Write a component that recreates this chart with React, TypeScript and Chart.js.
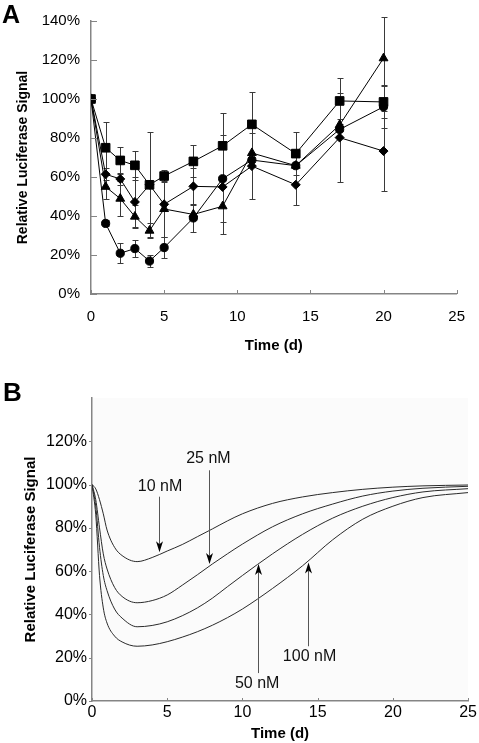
import React, { useEffect, useRef } from 'react';
import { Chart, registerables } from 'chart.js';
Chart.register(...registerables);

const FONT = '"Liberation Sans", Arial, sans-serif';

// ---------- Panel A data ----------
const daysA = [0, 1, 2, 3, 4, 5, 7, 9, 11, 14, 17, 20];
const squareVals = [100, 75, 68.5, 66, 56, 60.5, 68, 76, 87, 72, 99, 98.5];
const squareErr = [0, 13, 7, 7.5, 27, 3.3, 8.2, 16.7, 16.5, 11, 12, 8];
const diamondVals = [100, 61.4, 59, 47.2, 56, 46, 55.2, 54.9, 65.6, 56, 80.2, 73.3];
const diamondErr = [0, 3, 3, 12.8, 0, 0, 9.4, 0, 17, 10.5, 23, 20.6];
const triangleVals = [100, 55, 48.9, 39.7, 32.5, 43.6, 40.8, 45, 72.3, 65.8, 86.7, 120.9];
const triangleErr = [0, 6.5, 9, 6, 4, 14.6, 0, 14, 0, 0, 3, 21];
const circleVals = [100, 36.2, 20.9, 23.3, 16.9, 23.8, 39, 59.1, 68.7, 65.8, 84.4, 96];
const circleErr = [0, 1.5, 5.1, 4.4, 3, 5.5, 7, 22.4, 0, 0, 0, 11];

// ---------- Panel B data ----------
const daysB = [0, 0.25, 0.5, 0.75, 1, 1.5, 2, 3, 4, 5, 6, 7, 8, 9, 10, 12, 14, 16, 18, 20, 22, 25];
const curve10 = [100, 98, 93, 86.5, 79, 71, 67.2, 64.4, 66.3, 69.3, 72.3, 75.9, 79.5, 83.2, 86.5, 91.3, 94.3, 96.3, 97.8, 98.8, 99.4, 99.8];
const curve25 = [100, 93, 80, 68, 61, 52.5, 48.3, 45.4, 46.4, 49, 53.5, 58.3, 63.3, 68, 72.5, 80.5, 86.5, 91, 94.7, 97, 98.3, 99.2];
const curve50 = [100, 90, 71, 58, 51, 42.5, 38.3, 34.3, 34.9, 36.6, 39.4, 43, 47.5, 52.8, 58, 68, 77, 84.5, 90, 94, 96.6, 98.1];
const curve100 = [100, 86, 58, 43, 36, 30, 27.3, 25.3, 25.9, 27.4, 29.5, 32, 35, 38.5, 42.5, 52, 62.5, 74.5, 84, 90, 94, 96.3];

const arrowLabels = ['10 nM', '25 nM', '50 nM', '100 nM'];
const arrowDay = [4.48, 7.79, 11.03, 14.39];
const arrowTail = [94.4, 106.6, 12.9, 25.3];
const arrowTip = [68.7, 63.3, 63.3, 64];
const labelDay = [4.52, 7.74, 10.98, 14.46];
const labelVal = [99.2, 111.8, 8.2, 20.6];

const AXIS_COLOR = '#858585';

function tickMarks(opts: { xLen: number; yLen: number }) {
  return {
    id: 'tickMarks',
    afterDraw(chart: any) {
      const ctx = chart.ctx;
      const xs = chart.scales.x;
      const ys = chart.scales.y;
      const area = chart.chartArea;
      ctx.save();
      ctx.strokeStyle = AXIS_COLOR;
      ctx.lineWidth = 1;
      xs.ticks.forEach((t: any) => {
        const px = Math.round(xs.getPixelForValue(t.value)) + 0.5;
        ctx.beginPath();
        ctx.moveTo(px, area.bottom);
        ctx.lineTo(px, area.bottom - opts.xLen);
        ctx.stroke();
      });
      if (opts.yLen > 0) {
        ys.ticks.forEach((t: any) => {
          const py = Math.round(ys.getPixelForValue(t.value)) + 0.5;
          ctx.beginPath();
          ctx.moveTo(area.left, py);
          ctx.lineTo(area.left + opts.yLen, py);
          ctx.stroke();
        });
      }
      ctx.restore();
    },
  };
}

function panelLetter(letter: string, x: number, y: number, size: number) {
  return {
    id: 'panelLetter',
    afterDraw(chart: any) {
      const ctx = chart.ctx;
      ctx.save();
      ctx.fillStyle = '#000';
      ctx.font = `bold ${size}px ${FONT}`;
      ctx.textBaseline = 'alphabetic';
      ctx.textAlign = 'left';
      ctx.fillText(letter, x, y);
      ctx.restore();
    },
  };
}

const errorBars = {
  id: 'errorBars',
  beforeDatasetsDraw(chart: any) {
    const ctx = chart.ctx;
    const xs = chart.scales.x;
    const ys = chart.scales.y;
    ctx.save();
    ctx.strokeStyle = '#3a3a3a';
    ctx.lineWidth = 1;
    chart.data.datasets.forEach((ds: any) => {
      const err: number[] = ds.err;
      ds.data.forEach((p: any, i: number) => {
        const e = err[i];
        if (!e) return;
        const px = Math.round(xs.getPixelForValue(p.x)) + 0.5;
        const t = Math.round(ys.getPixelForValue(p.y + e)) + 0.5;
        const b = Math.round(ys.getPixelForValue(p.y - e)) + 0.5;
        ctx.beginPath();
        ctx.moveTo(px, t);
        ctx.lineTo(px, b);
        ctx.moveTo(px - 3, t);
        ctx.lineTo(px + 3, t);
        ctx.moveTo(px - 3, b);
        ctx.lineTo(px + 3, b);
        ctx.stroke();
      });
    });
    ctx.restore();
  },
};

const plotBg = {
  id: 'plotBg',
  beforeDraw(chart: any) {
    const { ctx, chartArea } = chart;
    ctx.save();
    ctx.fillStyle = '#fbfbfb';
    ctx.fillRect(chartArea.left, chartArea.top, chartArea.right - chartArea.left, chartArea.bottom - chartArea.top);
    ctx.restore();
  },
};

const yTicksOut = {
  id: 'yTicksOut',
  afterDraw(chart: any) {
    const ctx = chart.ctx;
    const ys = chart.scales.y;
    const area = chart.chartArea;
    ctx.save();
    ctx.strokeStyle = AXIS_COLOR;
    ctx.lineWidth = 1;
    ys.ticks.forEach((t: any) => {
      if (t.value > 120) return;
      const py = Math.round(ys.getPixelForValue(t.value)) + 0.5;
      ctx.beginPath();
      ctx.moveTo(area.left, py);
      ctx.lineTo(area.left - 3, py);
      ctx.stroke();
    });
    ctx.restore();
  },
};

const arrows = {
  id: 'arrows',
  afterDatasetsDraw(chart: any) {
    const ctx = chart.ctx;
    const xs = chart.scales.x;
    const ys = chart.scales.y;
    ctx.save();
    arrowLabels.forEach((lab, i) => {
      const x = Math.round(xs.getPixelForValue(arrowDay[i])) + 0.5;
      const yTail = ys.getPixelForValue(arrowTail[i]);
      const yTip = ys.getPixelForValue(arrowTip[i]);
      const dir = yTip > yTail ? 1 : -1;
      const L = 11, W = 3.5, N = 3;
      ctx.strokeStyle = '#555';
      ctx.lineWidth = 1;
      ctx.beginPath();
      ctx.moveTo(x, yTail);
      ctx.lineTo(x, yTip - dir * (L - N));
      ctx.stroke();
      ctx.fillStyle = '#000';
      ctx.beginPath();
      ctx.moveTo(x, yTip);
      ctx.lineTo(x - W, yTip - dir * L);
      ctx.lineTo(x, yTip - dir * (L - N));
      ctx.lineTo(x + W, yTip - dir * L);
      ctx.closePath();
      ctx.fill();
      ctx.fillStyle = '#111';
      ctx.font = `16px ${FONT}`;
      ctx.textAlign = 'center';
      ctx.textBaseline = 'middle';
      ctx.fillText(lab, xs.getPixelForValue(labelDay[i]), ys.getPixelForValue(labelVal[i]));
    });
    ctx.restore();
  },
};

function series(label: string, vals: number[], err: number[], style: string, radius: number) {
  return {
    label,
    data: daysA.map((d, i) => ({ x: d, y: vals[i] })),
    err,
    borderColor: '#000',
    backgroundColor: '#000',
    borderWidth: 1,
    pointStyle: style,
    pointRadius: radius,
    pointBorderWidth: 1,
    pointBorderColor: '#000',
    pointBackgroundColor: '#000',
    tension: 0,
  };
}

function curve(label: string, vals: number[]) {
  return {
    label,
    data: daysB.map((d, i) => ({ x: d, y: vals[i] })),
    borderColor: '#2a2a2a',
    borderWidth: 1,
    pointRadius: 0,
    cubicInterpolationMode: 'monotone',
    fill: false,
  };
}

export default function App() {
  const refA = useRef<HTMLCanvasElement>(null);
  const refB = useRef<HTMLCanvasElement>(null);

  useEffect(() => {
    Chart.defaults.font.family = FONT;
    Chart.defaults.color = '#000';

    const chartA = new Chart(refA.current as HTMLCanvasElement, {
      type: 'line',
      data: {
        datasets: [
          series('square', squareVals, squareErr, 'rect', 6.1),
          series('diamond', diamondVals, diamondErr, 'rectRot', 4.5),
          series('triangle', triangleVals, triangleErr, 'triangle', 5.1),
          series('circle', circleVals, circleErr, 'circle', 4.1),
        ] as any,
      },
      options: {
        animation: false,
        responsive: false,
        devicePixelRatio: 1,
        layout: { padding: { top: 21, right: 11, left: 0, bottom: 0 } },
        plugins: { legend: { display: false }, tooltip: { enabled: false } },
        scales: {
          x: {
            type: 'linear',
            min: 0,
            max: 25,
            ticks: { stepSize: 5, font: { size: 15 }, color: '#000', padding: 14 },
            grid: { display: false, drawTicks: false },
            border: { color: AXIS_COLOR, width: 1.5 },
            title: { display: true, text: 'Time (d)', font: { size: 15, weight: 'bold' }, color: '#000', padding: { top: 0, bottom: 15 } },
            afterFit: (s: any) => { s.height = 76; },
          },
          y: {
            min: 0,
            max: 140,
            ticks: { stepSize: 20, font: { size: 15 }, color: '#000', padding: 11, callback: (v: any) => v + '%' },
            grid: { display: false, drawTicks: false },
            border: { color: AXIS_COLOR, width: 1.5 },
            title: { display: true, text: 'Relative Luciferase Signal', font: { size: 14, weight: 'bold' }, color: '#000', padding: { top: 15, bottom: 0 } },
            afterFit: (s: any) => { s.width = 91; },
          },
        },
      } as any,
      plugins: [errorBars, tickMarks({ xLen: 4, yLen: 6 }), panelLetter('A', 2, 23, 25)],
    });

    const chartB = new Chart(refB.current as HTMLCanvasElement, {
      type: 'line',
      data: {
        datasets: [
          curve('10 nM', curve10),
          curve('25 nM', curve25),
          curve('50 nM', curve50),
          curve('100 nM', curve100),
        ] as any,
      },
      options: {
        animation: false,
        responsive: false,
        devicePixelRatio: 1,
        layout: { padding: { top: 28, right: 10, left: 0, bottom: 0 } },
        plugins: { legend: { display: false }, tooltip: { enabled: false } },
        scales: {
          x: {
            type: 'linear',
            min: 0,
            max: 25,
            ticks: { stepSize: 5, font: { size: 16 }, color: '#000', padding: 2 },
            grid: { display: false, drawTicks: false },
            border: { color: AXIS_COLOR, width: 1.5 },
            title: { display: true, text: 'Time (d)', font: { size: 15, weight: 'bold' }, color: '#000', padding: { top: 0, bottom: 0 } },
            afterFit: (s: any) => { s.height = 42; },
          },
          y: {
            min: 0,
            max: 140,
            ticks: { stepSize: 20, font: { size: 16 }, color: '#000', padding: 5, callback: (v: any) => (v > 120 ? '' : v + '%') },
            grid: { display: false, drawTicks: false },
            border: { color: AXIS_COLOR, width: 1.5 },
            title: { display: true, text: 'Relative Luciferase Signal', font: { size: 15, weight: 'bold' }, color: '#000', padding: { top: 22, bottom: 0 } },
            afterFit: (s: any) => { s.width = 92; },
          },
        },
      } as any,
      plugins: [plotBg, arrows, tickMarks({ xLen: 3, yLen: 0 }), yTicksOut, panelLetter('B', 3, 31, 26)],
    });

    return () => {
      chartA.destroy();
      chartB.destroy();
    };
  }, []);

  return (
    <div style={{ position: 'absolute', left: 0, top: 0, width: 479, height: 743, background: '#fff' }}>
      <canvas ref={refA} width={479} height={370} style={{ position: 'absolute', left: 0, top: 0, width: 479, height: 370 }} />
      <canvas ref={refB} width={479} height={373} style={{ position: 'absolute', left: 0, top: 370, width: 479, height: 373 }} />
    </div>
  );
}
